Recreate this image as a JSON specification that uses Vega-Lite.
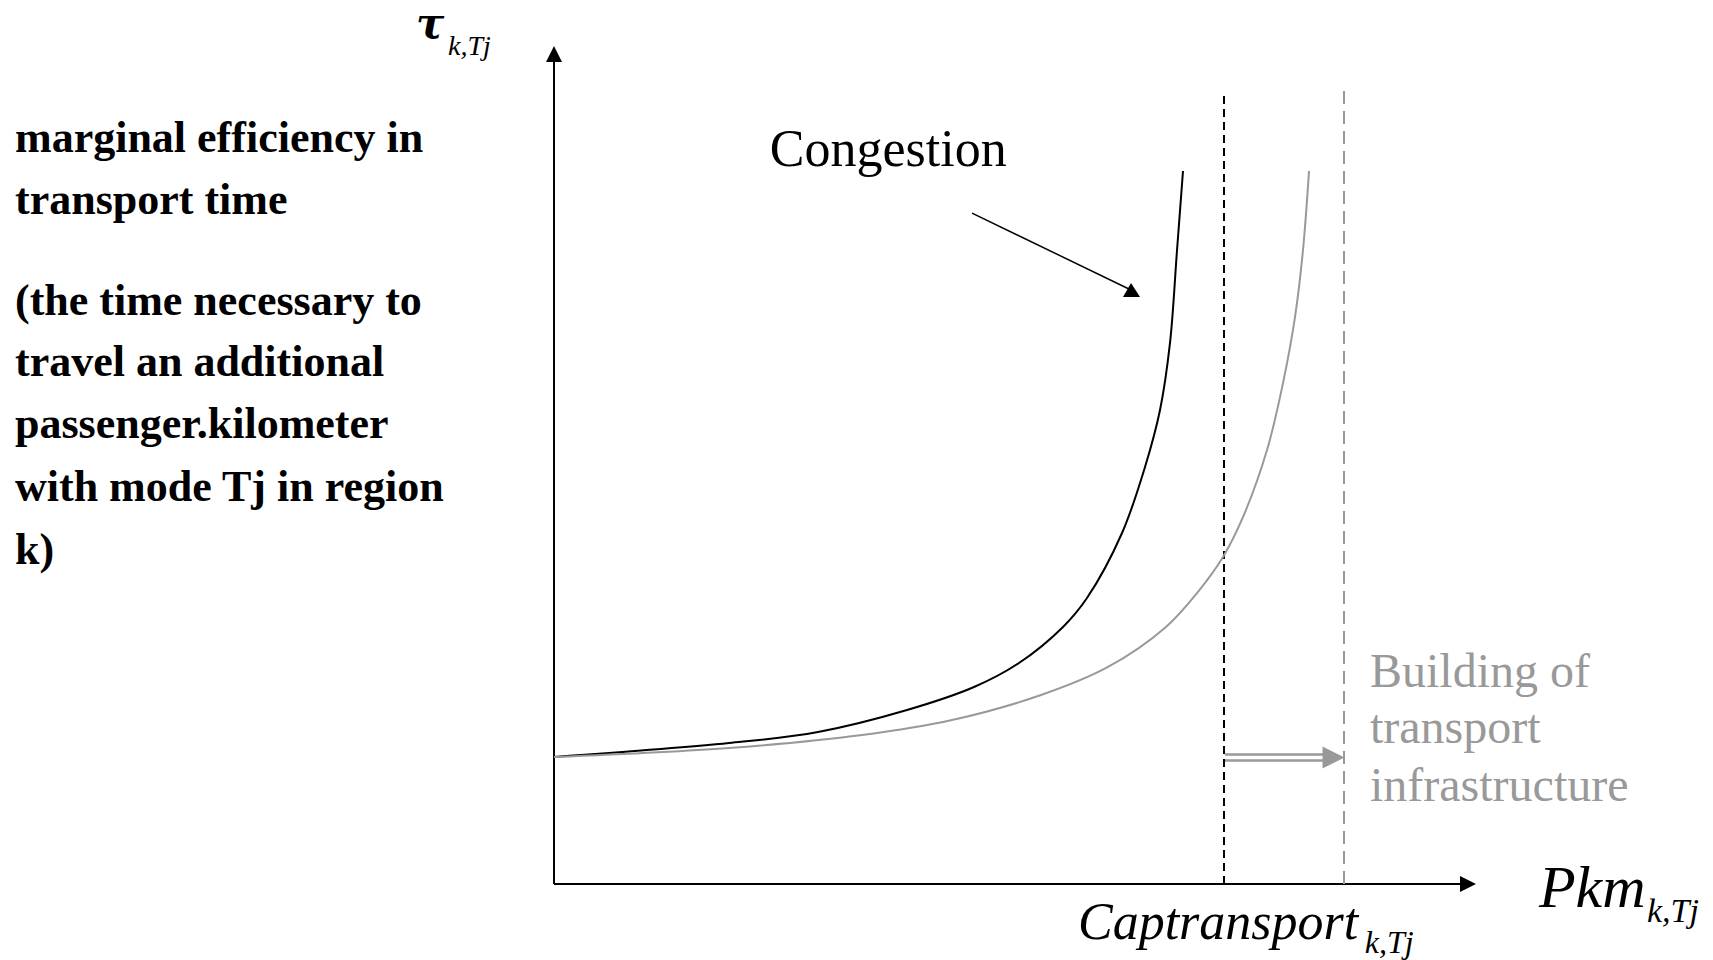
{
  "$schema": "https://vega.github.io/schema/vega-lite/v6.json",
  "width": 1713,
  "height": 960,
  "autosize": {"type": "fit", "contains": "padding"},
  "padding": 0,
  "background": "white",
  "config": {"view": {"stroke": null}},
  "encoding": {
    "x": {"field": "x", "type": "quantitative", "scale": {"domain": [-82.687, 172.985], "nice": false, "zero": false}, "axis": null},
    "y": {"field": "y", "type": "quantitative", "scale": {"domain": [-5.984, 69.606], "nice": false, "zero": false}, "axis": null}
  },
  "layer": [
    {
      "data": {"values": [
        {"x": 0, "y": 0, "x2": 135.22, "y2": 0},
        {"x": 0, "y": 0, "x2": 0, "y2": 64.72}
      ]},
      "mark": {"type": "rule", "color": "#000000", "strokeWidth": 2},
      "encoding": {"x2": {"field": "x2"}, "y2": {"field": "y2"}}
    },
    {
      "data": {"values": [{"x": 0, "y": 65.354}]},
      "mark": {"type": "point", "shape": "M0,-1L1,1L-1,1Z", "size": 256, "filled": true, "color": "#000000", "opacity": 1}
    },
    {
      "data": {"values": [{"x": 136.42, "y": 0}]},
      "mark": {"type": "point", "shape": "M1,0L-1,-1L-1,1Z", "size": 256, "filled": true, "color": "#000000", "opacity": 1}
    },
    {
      "data": {"values": [{"x": 100, "y": 0, "y2": 62.44}]},
      "mark": {"type": "rule", "color": "#000000", "strokeWidth": 2, "strokeDash": [8, 5]},
      "encoding": {"y2": {"field": "y2"}}
    },
    {
      "data": {"values": [{"x": 117.91, "y": 0, "y2": 62.44}]},
      "mark": {"type": "rule", "color": "#999999", "strokeWidth": 2, "strokeDash": [13, 7]},
      "encoding": {"y2": {"field": "y2"}}
    },
    {
      "data": {"values": [
        {"curve": "before", "x": 0, "y": 10.0},
        {"curve": "before", "x": 26.12, "y": 11.10},
        {"curve": "before", "x": 39.40, "y": 11.97},
        {"curve": "before", "x": 52.69, "y": 13.70},
        {"curve": "before", "x": 62.69, "y": 15.51},
        {"curve": "before", "x": 69.40, "y": 17.40},
        {"curve": "before", "x": 75.97, "y": 20.24},
        {"curve": "before", "x": 79.55, "y": 22.52},
        {"curve": "before", "x": 84.78, "y": 27.64},
        {"curve": "before", "x": 88.21, "y": 32.83},
        {"curve": "before", "x": 90.45, "y": 37.32},
        {"curve": "before", "x": 91.94, "y": 42.60},
        {"curve": "before", "x": 92.99, "y": 49.92},
        {"curve": "before", "x": 93.88, "y": 56.14},
        {"curve": "after", "x": 0, "y": 10.0},
        {"curve": "after", "x": 26.12, "y": 10.71},
        {"curve": "after", "x": 45.97, "y": 11.73},
        {"curve": "after", "x": 59.40, "y": 12.91},
        {"curve": "after", "x": 72.69, "y": 14.88},
        {"curve": "after", "x": 82.69, "y": 17.09},
        {"curve": "after", "x": 91.34, "y": 20.24},
        {"curve": "after", "x": 95.97, "y": 22.91},
        {"curve": "after", "x": 99.85, "y": 25.75},
        {"curve": "after", "x": 102.84, "y": 28.90},
        {"curve": "after", "x": 106.42, "y": 34.17},
        {"curve": "after", "x": 108.81, "y": 39.45},
        {"curve": "after", "x": 110.60, "y": 44.65},
        {"curve": "after", "x": 111.79, "y": 49.92},
        {"curve": "after", "x": 112.69, "y": 56.14}
      ]},
      "mark": {"type": "line", "interpolate": "catmull-rom", "strokeWidth": 2},
      "encoding": {
        "color": {"field": "curve", "type": "nominal", "scale": {"domain": ["before", "after"], "range": ["#000000", "#999999"]}, "legend": null},
        "order": {"field": "x", "type": "quantitative"}
      }
    },
    {
      "data": {"values": [
        {"x": 100.15, "x2": 115.82, "y": 10.197},
        {"x": 100.15, "x2": 115.82, "y": 9.724}
      ]},
      "mark": {"type": "rule", "color": "#999999", "strokeWidth": 2.5},
      "encoding": {"x2": {"field": "x2"}}
    },
    {
      "data": {"values": [{"x": 116.34, "y": 9.96}]},
      "mark": {"type": "point", "shape": "M1,0L-1,-1L-1,1Z", "size": 484, "filled": true, "color": "#999999", "opacity": 1}
    },
    {
      "data": {"values": [{"x": 62.39, "y": 52.83, "x2": 86.12, "y2": 46.77}]},
      "mark": {"type": "rule", "color": "#000000", "strokeWidth": 1.5},
      "encoding": {"x2": {"field": "x2"}, "y2": {"field": "y2"}}
    },
    {
      "data": {"values": [{"x": 86.12, "y": 46.61}]},
      "mark": {"type": "point", "shape": "M0,-1L-0.889,0.556L1,0.556Z", "size": 324, "filled": true, "color": "#000000", "opacity": 1}
    },
    {
      "data": {"values": [{"x": 32.2, "y": 56.5, "label": "Congestion"}]},
      "mark": {"type": "text", "font": "Liberation Serif", "fontSize": 52, "align": "left", "baseline": "alphabetic", "color": "#000000"},
      "encoding": {"text": {"field": "label"}}
    },
    {
      "data": {"values": [
        {"x": 121.79, "y": 15.5, "label": "Building of"},
        {"x": 121.79, "y": 11.09, "label": "transport"},
        {"x": 121.79, "y": 6.53, "label": "infrastructure"}
      ]},
      "mark": {"type": "text", "font": "Liberation Serif", "fontSize": 48, "align": "left", "baseline": "alphabetic", "color": "#999999"},
      "encoding": {"text": {"field": "label"}}
    },
    {
      "data": {"values": [{"x": 78.2, "y": -4.3, "label": "Captransport"}]},
      "mark": {"type": "text", "font": "Liberation Serif", "fontSize": 52, "fontStyle": "italic", "align": "left", "baseline": "alphabetic", "color": "#000000"},
      "encoding": {"text": {"field": "label"}}
    },
    {
      "data": {"values": [{"x": 121.0, "y": -5.43, "label": "k,Tj"}]},
      "mark": {"type": "text", "font": "Liberation Serif", "fontSize": 32, "fontStyle": "italic", "align": "left", "baseline": "alphabetic", "color": "#000000"},
      "encoding": {"text": {"field": "label"}}
    },
    {
      "data": {"values": [{"x": 147.01, "y": -1.81, "label": "Pkm"}]},
      "mark": {"type": "text", "font": "Liberation Serif", "fontSize": 60, "fontStyle": "italic", "align": "left", "baseline": "alphabetic", "color": "#000000"},
      "encoding": {"text": {"field": "label"}}
    },
    {
      "data": {"values": [{"x": 163.13, "y": -2.99, "label": "k,Tj"}]},
      "mark": {"type": "text", "font": "Liberation Serif", "fontSize": 34, "fontStyle": "italic", "align": "left", "baseline": "alphabetic", "color": "#000000"},
      "encoding": {"text": {"field": "label"}}
    },
    {
      "data": {"values": [{"x": -20.6, "y": 66.61, "label": "τ"}]},
      "mark": {"type": "text", "font": "DejaVu Serif", "fontSize": 42, "fontStyle": "italic", "fontWeight": "bold", "align": "left", "baseline": "alphabetic", "color": "#000000"},
      "encoding": {"text": {"field": "label"}}
    },
    {
      "data": {"values": [{"x": -15.82, "y": 65.28, "label": "k,Tj"}]},
      "mark": {"type": "text", "font": "Liberation Serif", "fontSize": 28, "fontStyle": "italic", "align": "left", "baseline": "alphabetic", "color": "#000000"},
      "encoding": {"text": {"field": "label"}}
    },
    {
      "data": {"values": [
        {"x": -80.45, "y": 57.6, "label": "marginal efficiency in"},
        {"x": -80.45, "y": 52.72, "label": "transport time"},
        {"x": -80.45, "y": 44.8, "label": "(the time necessary to"},
        {"x": -80.45, "y": 40.0, "label": "travel an additional"},
        {"x": -80.45, "y": 35.1, "label": "passenger.kilometer"},
        {"x": -80.45, "y": 30.16, "label": "with mode Tj in region"},
        {"x": -80.45, "y": 25.22, "label": "k)"}
      ]},
      "mark": {"type": "text", "font": "Liberation Serif", "fontSize": 44, "fontWeight": "bold", "align": "left", "baseline": "alphabetic", "color": "#000000"},
      "encoding": {"text": {"field": "label"}}
    }
  ]
}
